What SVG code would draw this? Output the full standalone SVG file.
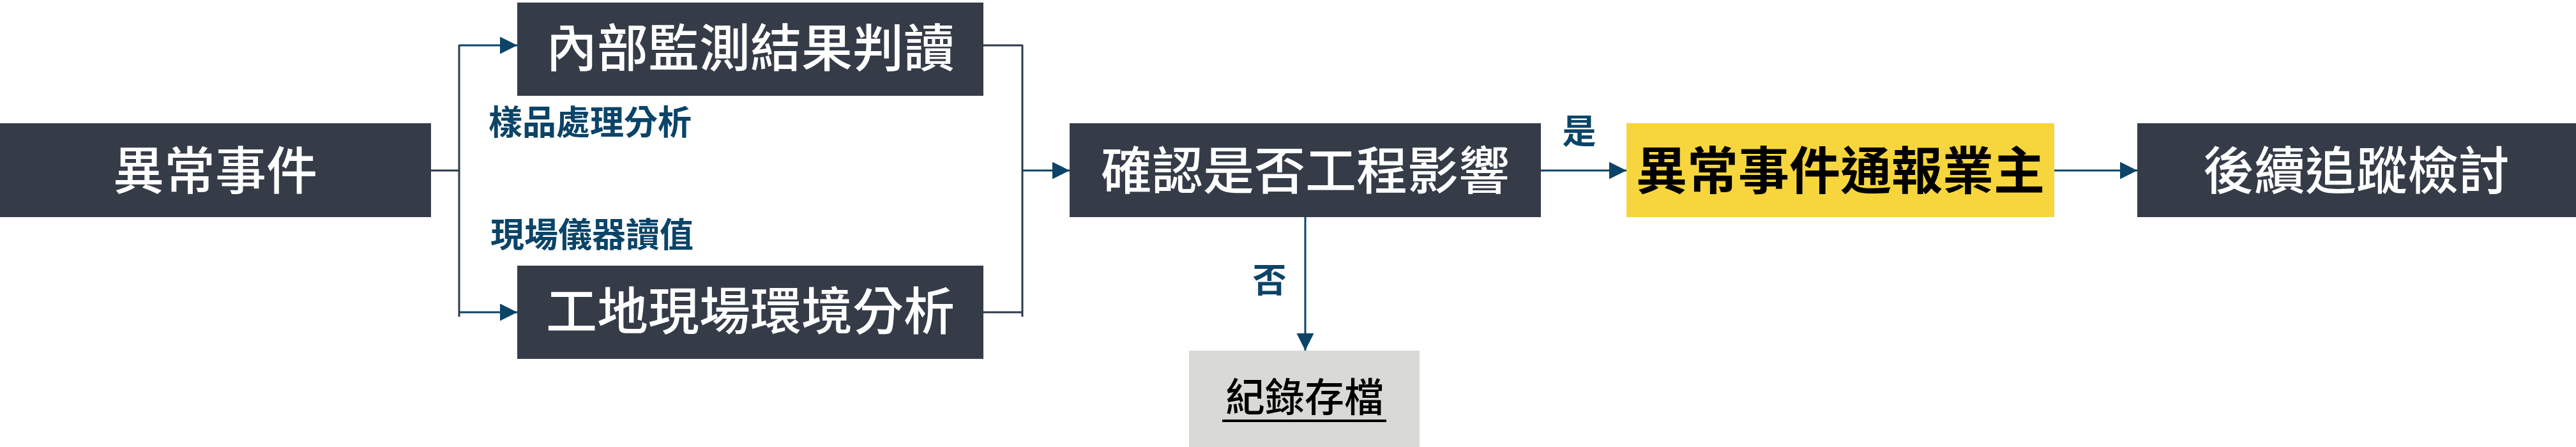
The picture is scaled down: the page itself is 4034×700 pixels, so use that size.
<svg xmlns="http://www.w3.org/2000/svg" width="4034" height="700" viewBox="0 0 4034 700">
<defs>
<style>
.box{fill:#353c48}
.bt{font-family:"Noto Sans CJK TC","Noto Sans CJK SC",sans-serif;font-size:80px;fill:#ffffff;font-weight:500;text-anchor:middle}
.yt{font-family:"Noto Sans CJK TC","Noto Sans CJK SC",sans-serif;font-size:80px;fill:#000000;font-weight:700;text-anchor:middle}
.lbl{font-family:"Noto Sans CJK TC","Noto Sans CJK SC",sans-serif;font-size:53px;fill:#0b4468;font-weight:700}
.fork{stroke:#2c3a4b;stroke-width:3;fill:none}
.arr{stroke:#0b4468;stroke-width:3;fill:none;marker-end:url(#ah)}
</style>
<marker id="ah" markerUnits="userSpaceOnUse" markerWidth="28" markerHeight="28" refX="27" refY="13.5" orient="auto">
<path d="M0,0 L27,13.5 L0,27 z" fill="#0b4468"/>
</marker>
</defs>
<rect width="4034" height="700" fill="#ffffff"/>
<g id="connectors">
<path class="fork" d="M675,267 H719 M719,70 V496 M1540,71 H1601 M1540,489 H1601 M1601,70 V496"/>
<path class="arr" d="M719,71 H810"/>
<path class="arr" d="M719,489 H810"/>
<path class="arr" d="M1601,267 H1675"/>
<path class="arr" d="M2413,267 H2547"/>
<path class="arr" d="M3217,267 H3347"/>
<path class="arr" d="M2044,340 V549"/>
<text class="lbl" x="765" y="211">樣品處理分析</text>
<text class="lbl" x="768" y="387">現場儀器讀值</text>
<text class="lbl" x="2473" y="225" text-anchor="middle">是</text>
<text class="lbl" x="1988" y="458" text-anchor="middle">否</text>
</g>
<g id="n1">
<rect class="box" x="0" y="193" width="675" height="147"/>
<text class="bt" x="337" y="296">異常事件</text>
</g>
<g id="n2">
<rect class="box" x="810" y="4" width="730" height="146"/>
<text class="bt" x="1175" y="104">內部監測結果判讀</text>
</g>
<g id="n3">
<rect class="box" x="810" y="416" width="730" height="146"/>
<text class="bt" x="1175" y="516">工地現場環境分析</text>
</g>
<g id="n4">
<rect class="box" x="1675" y="193" width="738" height="147"/>
<text class="bt" x="2044" y="296">確認是否工程影響</text>
</g>
<g id="n5">
<rect x="2547" y="193" width="670" height="147" fill="#f6d63c"/>
<text class="yt" x="2882" y="296">異常事件通報業主</text>
</g>
<g id="n6">
<rect class="box" x="3347" y="193" width="687" height="147"/>
<text class="bt" x="3690" y="296">後續追蹤檢討</text>
</g>
<g id="n7">
<rect x="1862" y="549" width="361" height="151" fill="#d9d9d5"/>
<text x="2043" y="645" font-family="Noto Sans CJK TC, Noto Sans CJK SC, sans-serif" font-size="62" font-weight="500" fill="#000000" text-anchor="middle">紀錄存檔</text>
<rect x="1914" y="657" width="257" height="4" fill="#000000"/>
</g>
</svg>
